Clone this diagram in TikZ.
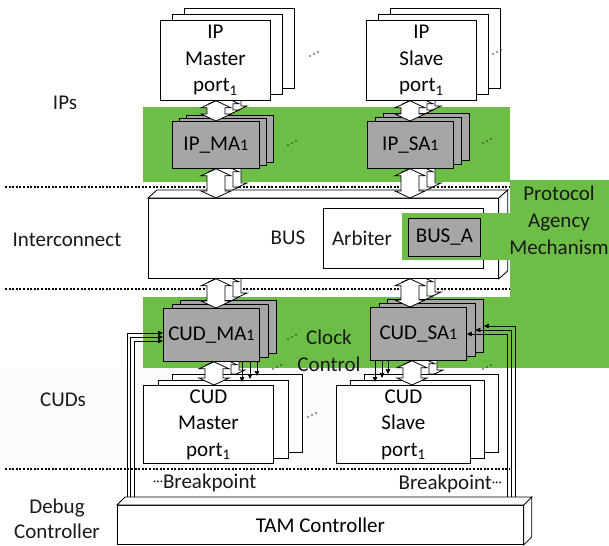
\documentclass[tikz,border=0pt]{standalone}
\usepackage{fontspec}
\setmainfont{Carlito}
\usetikzlibrary{arrows.meta,calc}
\pgfdeclarelayer{back}
\pgfdeclarelayer{mid}
\pgfsetlayers{back,mid,main}
\definecolor{pgreen}{RGB}{108,190,70}
\definecolor{agray}{RGB}{166,166,166}
\newcommand\sone{{\fontsize{16}{16}\selectfont 1}}
\newcommand\stk[9]{%
  \node[#8, minimum width=#4pt, minimum height=#5pt] (#1b2) at ({#2+2*#6},{#3-2*#7}) {};
  \node[#8, minimum width=#4pt, minimum height=#5pt] (#1b1) at ({#2+#6},{#3-#7}) {};
  \node[#8, minimum width=#4pt, minimum height=#5pt] (#1) at (#2,#3) {#9};}
\newcommand\dbl[4]{%
  \path[dblarrow] let \p1=($#1+(#3pt,#4pt)$), \p2=($#2+(#3pt,#4pt)$) in
   (\x1,\y1) -- (\x1+15pt,\y1-7pt) -- (\x1+9pt,\y1-7pt) -- (\x1+9pt,\y2+7pt) --
   (\x1+15pt,\y2+7pt) -- (\x1,\y2) -- (\x1-15pt,\y2+7pt) -- (\x1-9pt,\y2+7pt) --
   (\x1-9pt,\y1-7pt) -- (\x1-15pt,\y1-7pt) -- cycle;}
\newcommand\tridbl[2]{%
  \begin{pgfonlayer}{mid}\dbl{#1}{#2}{16}{8}\dbl{#1}{#2}{8}{4}\end{pgfonlayer}%
  \dbl{#1}{#2}{0}{0}}
\newcommand\tdots[2]{\fill[black!80] ({#1-4},{#2+2}) circle (0.8) ({#1},{#2}) circle (0.8) ({#1+4},{#2-2}) circle (0.8);}
\begin{document}
\begin{tikzpicture}[x=1pt,y=-1pt,
  box/.style={draw=black, line width=0.8pt, fill=white, inner sep=0pt, anchor=north west,
    align=center, font=\fontsize{21}{26.5}\selectfont},
  gbox/.style={box, fill=agray},
  lbl/.style={font=\fontsize{21}{27}\selectfont, align=center, inner sep=0pt, text=black!90},
  face/.style={draw=black, line width=0.8pt, fill=white},
  dblarrow/.style={draw=black, line width=0.8pt, fill=white},
  wire/.style={line width=0.6pt, -{Triangle[length=5pt,width=4.5pt]}},
  dotline/.style={line width=1.5pt, dash pattern=on 2pt off 1.6pt}
]
\useasboundingbox (0,0) rectangle (609,545);
\begin{pgfonlayer}{back}
  \fill[white] (0,0) rectangle (609,545);
  \fill[black!1.5] (0,368) rectangle (520,470);
  \fill[pgreen] (143,107) rectangle (510,182);
  \fill[pgreen] (510,180) rectangle (609,297);
  \fill[pgreen] (143,297) rectangle (609,368);
  \draw[dotline] (5,187) -- (510,187);
  \draw[dotline] (5,289) -- (510,289);
  \draw[dotline] (5,469) -- (510,469);
\end{pgfonlayer}

% left labels
\node[lbl] (lips) at (65,103) {IPs};
\node[lbl] (linter) at (67,240) {Interconnect};
\node[lbl] (lcuds) at (63,400) {CUDs};
\node[lbl, font=\fontsize{21}{25}\selectfont] (ldebug) at (57,519) {Debug\\Controller};

% IP ports
\stk{ipm}{160}{20}{110}{80}{12}{6}{box}{IP\\Master\\port\textsubscript{1}}
\stk{ips}{366}{20}{110}{80}{12}{6}{box}{IP\\Slave\\port\textsubscript{1}}
% IP adapters
\stk{ipma}{172}{121}{87}{47}{7}{3}{gbox}{IP\_MA\sone}
\stk{ipsa}{367}{121}{86}{47}{8}{4}{gbox}{IP\_SA\sone}

% BUS
\node[box, minimum width=350pt, minimum height=80pt] (bus) at (148,198) {};
\draw[face] (bus.north west) -- ++(9,-8) -- ($(bus.north east)+(9pt,8pt)$) -- (bus.north east) -- cycle;
\draw[face] (bus.north east) -- ++(9,-8) -- ($(bus.south east)+(9pt,8pt)$) -- (bus.south east) -- cycle;
\node[lbl] (bustxt) at (288,238) {BUS};
\node[box, minimum width=160pt, minimum height=60pt] (arb) at (323,208) {};
\node[lbl] (arbtxt) at (362,238) {Arbiter};
\node[fill=pgreen, inner sep=0pt, minimum width=108pt, minimum height=47pt, anchor=north west] (pamg) at (402,213) {};
\node[gbox, minimum width=72pt, minimum height=38pt] (busa) at (408,218) {BUS\_A};
\node[lbl] (pam) at (559,220) {Protocol\\Agency\\Mechanism};

% CUD adapters
\stk{cudma}{163}{308}{96}{53}{8.5}{4}{gbox}{CUD\_MA\sone}
\stk{cudsa}{370}{307}{96}{53}{8.5}{4}{gbox}{CUD\_SA\sone}
\node[lbl] (clk) at (329,351) {Clock\\Control};

% CUD ports
\stk{cpm}{143}{385}{130}{78}{14.5}{5.5}{box}{CUD\\Master\\port\textsubscript{1}}
\stk{cps}{336}{385}{134}{78}{14}{5.5}{box}{CUD\\Slave\\port\textsubscript{1}}

% TAM
\node[box, minimum width=406pt, minimum height=39pt] (tam) at (117,505) {TAM Controller};

% breakpoints
\node[lbl, anchor=west] (bp1) at (153,483) {\raisebox{3pt}{\fontsize{13}{13}\selectfont ···}Breakpoint};
\node[lbl, anchor=east] (bp2) at (502,484) {Breakpoint\raisebox{3pt}{\fontsize{13}{13}\selectfont ···}};

% block arrows
\coordinate (mx) at (216,0);
\coordinate (sx) at (410,0);
\coordinate (cmx) at (214,0);
\coordinate (csx) at (412,0);
\tridbl{(ipm.south -| mx)}{(ipma.north -| mx)}
\tridbl{(ipma.south -| mx)}{(bus.north -| mx)}
\tridbl{(bus.south -| mx)}{(cudma.north -| mx)}
\tridbl{(cudma.south -| cmx)}{(cpm.north -| cmx)}
\tridbl{(ips.south -| sx)}{(ipsa.north -| sx)}
\tridbl{(ipsa.south -| sx)}{(bus.north -| sx)}
\tridbl{(bus.south -| sx)}{(cudsa.north -| sx)}
\tridbl{(cudsa.south -| csx)}{(cps.north -| csx)}

% wires from TAM
\coordinate (wl1) at (127,333);
\coordinate (wl2) at (130.5,337);
\coordinate (wl3) at (134,341);
\draw[wire] (wl1 |- tam.north) -- (wl1) -- (wl1 -| cudma.west);
\draw[wire] (wl2 |- tam.north) -- (wl2) -- (wl2 -| cudma.west);
\draw[wire] (wl3 |- tam.north) -- (wl3) -- (wl3 -| cudma.west);
\coordinate (wr1) at (515,326);
\coordinate (wr2) at (511,330);
\coordinate (wr3) at (507,334);
\draw[wire] (wr1 |- tam.north) -- (wr1) -- (wr1 -| cudsab2.east);
\draw[wire] (wr2 |- tam.north) -- (wr2) -- (wr2 -| cudsab1.east);
\draw[wire] (wr3 |- tam.north) -- (wr3) -- (wr3 -| cudsa.east);
\draw[face] (tam.north west) -- ++(8,-8) -- ($(tam.north east)+(8pt,8pt)$) -- (tam.north east) -- cycle;
\draw[face] (tam.north east) -- ++(8,-8) -- ($(tam.south east)+(8pt,8pt)$) -- (tam.south east) -- cycle;

% clock control arrows
\coordinate (da1) at (242,382);
\coordinate (da2) at (250,379);
\coordinate (da3) at (257,376);
\draw[wire] (cudma.south -| da1) -- (da1);
\draw[wire] (cudma.south -| da2) -- (da2);
\draw[wire] (cudma.south -| da3) -- (da3);
\coordinate (db1) at (375,382);
\coordinate (db2) at (382,378);
\coordinate (db3) at (388,374);
\draw[wire] (cudsa.south -| db1) -- (db1);
\draw[wire] (cudsa.south -| db2) -- (db2);
\draw[wire] (cudsa.south -| db3) -- (db3);

% ellipsis dots
\tdots{314}{54}
\tdots{497}{52}
\tdots{292}{143}
\tdots{487}{141}
\tdots{292}{337}
\tdots{277}{367}
\tdots{312}{415}
\tdots{487}{367}
\end{tikzpicture}
\end{document}
